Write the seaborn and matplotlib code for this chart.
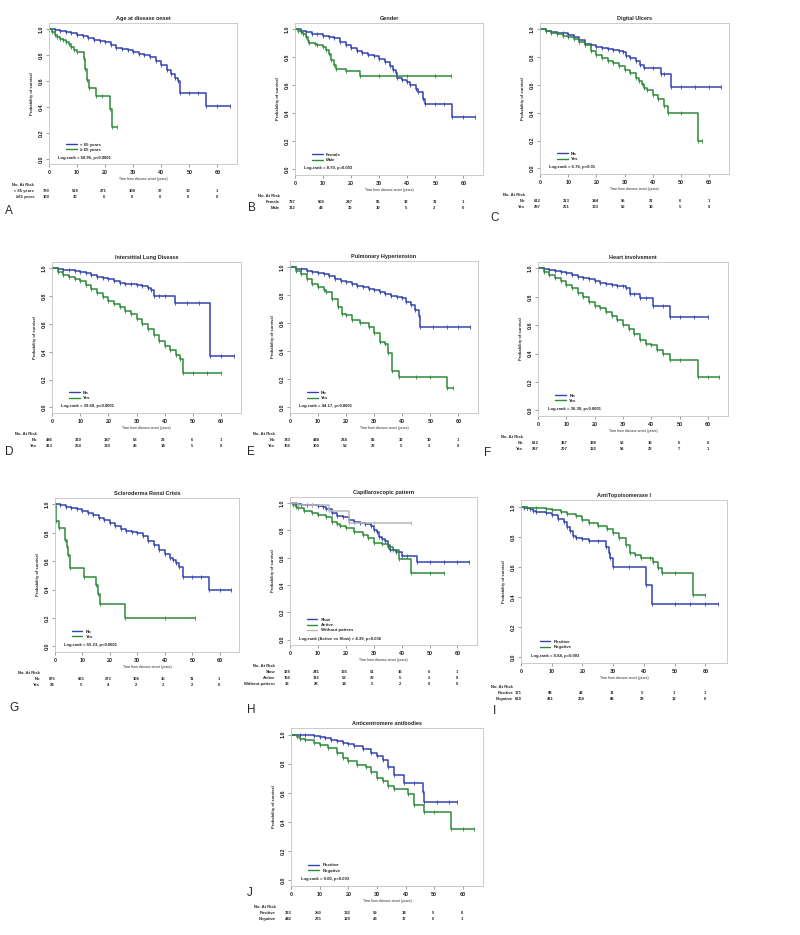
import matplotlib
matplotlib.use("Agg")
import matplotlib.pyplot as plt
import seaborn as sns
from matplotlib.lines import Line2D

sns.set_theme(style="white")
plt.rcParams["font.family"] = ["Liberation Sans", "DejaVu Sans"]

BLUE = "#3344b0"
GREEN = "#2f8a3a"
GRAY = "#b8b8b8"

XTICKS = [0, 10, 20, 30, 40, 50, 60]
YTICKS = [0.0, 0.2, 0.4, 0.6, 0.8, 1.0]
RISK_X = [-1.0, 9.4, 19.5, 29.5, 39.5, 49.7, 59.8]
XLABEL = "Time from disease onset (years)"

# A - age at disease onset
a_lt65_t = [0, 2, 4, 6, 8, 10, 12, 14, 16, 18, 20, 22, 24, 26, 28, 30, 32, 34, 36, 38, 40, 42, 43.5, 45, 46, 46.7, 50, 53, 56, 60, 64.5]
a_lt65_s = [1.0, 0.99, 0.98, 0.975, 0.965, 0.955, 0.945, 0.93, 0.915, 0.905, 0.895, 0.875, 0.855, 0.845, 0.835, 0.82, 0.81, 0.795, 0.78, 0.75, 0.72, 0.68, 0.655, 0.625, 0.60, 0.51, 0.51, 0.51, 0.41, 0.41, 0.41]
a_ge65_t = [0, 1, 2, 3, 4, 5, 6, 7, 8, 9, 10, 12.5, 13, 13.7, 14.2, 16.6, 19, 21.7, 22.3, 24.4]
a_ge65_s = [1.0, 0.975, 0.955, 0.94, 0.925, 0.915, 0.90, 0.88, 0.86, 0.835, 0.82, 0.765, 0.69, 0.61, 0.545, 0.48, 0.48, 0.38, 0.245, 0.245]
a_risk_lt65 = [799, 538, 271, 108, 37, 13, 1]
a_risk_ge65 = [100, 30, 6, 0, 0, 0, 0]

# B - gender
b_fem_t = [0, 2, 4, 6, 8, 10, 12, 14, 16, 18, 20, 22, 24, 26, 28, 30, 32, 34, 35, 36, 36.5, 38, 40, 41, 43, 44, 45.5, 46.5, 50, 53, 56, 60, 64]
b_fem_s = [1.0, 0.99, 0.98, 0.97, 0.965, 0.955, 0.945, 0.935, 0.91, 0.885, 0.865, 0.845, 0.83, 0.82, 0.81, 0.79, 0.765, 0.735, 0.71, 0.69, 0.65, 0.635, 0.625, 0.60, 0.575, 0.55, 0.505, 0.465, 0.465, 0.465, 0.375, 0.375, 0.375]
b_male_t = [0, 1, 2, 3, 4, 4.5, 5, 7, 8, 10, 11, 12, 13, 14, 14.5, 18, 23, 30, 40, 50, 55.5]
b_male_s = [1.0, 0.99, 0.98, 0.965, 0.945, 0.92, 0.905, 0.895, 0.89, 0.875, 0.85, 0.825, 0.78, 0.745, 0.72, 0.705, 0.67, 0.67, 0.67, 0.67, 0.67]
b_risk_fem = [787, 508, 247, 96, 32, 11, 1]
b_risk_male = [112, 48, 30, 10, 5, 2, 0]

# C - digital ulcers
c_no_t = [0, 2, 4, 6, 8, 10, 12, 14, 16, 18, 20, 22, 24, 26, 28, 29.5, 30.5, 32, 34, 35.5, 37, 40, 43, 44, 46.5, 50, 55, 60, 64]
c_no_s = [1.0, 0.99, 0.98, 0.975, 0.97, 0.96, 0.945, 0.92, 0.895, 0.885, 0.875, 0.865, 0.855, 0.85, 0.845, 0.84, 0.805, 0.795, 0.775, 0.745, 0.72, 0.72, 0.68, 0.68, 0.585, 0.585, 0.585, 0.585, 0.585]
c_yes_t = [0, 2, 4, 6, 8, 10, 12, 14, 16, 18, 20, 22, 24, 26, 28, 30, 32, 34, 35, 36, 37, 38, 40, 42, 44, 45.5, 50, 56, 57.5]
c_yes_s = [1.0, 0.985, 0.975, 0.965, 0.955, 0.945, 0.93, 0.91, 0.885, 0.845, 0.815, 0.795, 0.77, 0.755, 0.735, 0.705, 0.685, 0.65, 0.63, 0.605, 0.58, 0.565, 0.525, 0.50, 0.45, 0.40, 0.40, 0.20, 0.20]
c_risk_no = [612, 313, 144, 56, 21, 6, 1]
c_risk_yes = [287, 261, 133, 52, 16, 5, 0]

# D - interstitial lung disease
d_no_t = [0, 2, 4, 6, 8, 10, 12, 14, 16, 18, 20, 22, 24, 26, 28, 30, 32, 34, 35, 36, 38, 40, 43.5, 48, 52, 56, 60, 64.5]
d_no_s = [1.0, 0.995, 0.99, 0.985, 0.98, 0.975, 0.965, 0.95, 0.94, 0.93, 0.92, 0.905, 0.895, 0.89, 0.885, 0.88, 0.875, 0.86, 0.845, 0.80, 0.80, 0.80, 0.75, 0.75, 0.75, 0.37, 0.37, 0.37]
d_yes_t = [0, 2, 4, 6, 8, 10, 12, 14, 16, 18, 20, 22, 24, 26, 28, 30, 32, 34, 36, 38, 40, 42, 44, 45.5, 46.5, 50, 55, 60]
d_yes_s = [1.0, 0.975, 0.955, 0.935, 0.92, 0.905, 0.88, 0.85, 0.82, 0.79, 0.765, 0.74, 0.72, 0.695, 0.67, 0.635, 0.60, 0.56, 0.52, 0.48, 0.445, 0.41, 0.375, 0.35, 0.25, 0.25, 0.25, 0.25]
d_risk_no = [486, 310, 147, 63, 23, 6, 1]
d_risk_yes = [413, 264, 130, 45, 14, 5, 0]

# E - pulmonary hypertension
e_no_t = [0, 2, 4, 6, 8, 10, 12, 14, 16, 18, 20, 22, 24, 26, 28, 30, 32, 34, 36, 38, 40, 41.5, 43, 44.5, 46, 46.5, 51, 56, 60, 64]
e_no_s = [1.0, 0.99, 0.985, 0.975, 0.97, 0.96, 0.95, 0.935, 0.92, 0.905, 0.895, 0.88, 0.87, 0.86, 0.845, 0.835, 0.825, 0.81, 0.795, 0.785, 0.78, 0.755, 0.73, 0.695, 0.65, 0.575, 0.575, 0.575, 0.575, 0.575]
e_yes_t = [0, 2, 4, 6, 8, 10, 12, 13, 15, 17, 18.5, 20, 22, 25, 28, 30, 32, 34, 35, 36.5, 39, 45, 50, 56, 58]
e_yes_s = [1.0, 0.975, 0.95, 0.915, 0.88, 0.86, 0.84, 0.825, 0.775, 0.72, 0.67, 0.66, 0.625, 0.60, 0.575, 0.53, 0.47, 0.45, 0.39, 0.26, 0.215, 0.215, 0.215, 0.14, 0.14]
e_risk_no = [743, 448, 224, 86, 32, 10, 1]
e_risk_yes = [156, 100, 53, 22, 5, 3, 0]

# F - heart involvement
f_no_t = [0, 2, 4, 6, 8, 10, 12, 14, 16, 18, 20, 22, 24, 26, 28, 30, 31, 32.5, 34, 36, 38, 40.5, 44, 46.5, 50, 55, 60]
f_no_s = [1.0, 0.995, 0.99, 0.985, 0.975, 0.965, 0.955, 0.94, 0.93, 0.925, 0.91, 0.90, 0.89, 0.88, 0.875, 0.875, 0.86, 0.82, 0.82, 0.79, 0.79, 0.735, 0.735, 0.66, 0.66, 0.66, 0.66]
f_yes_t = [0, 2, 4, 6, 8, 10, 12, 14, 16, 18, 20, 22, 24, 26, 28, 30, 32, 34, 36, 38, 40, 42, 44, 46.5, 50, 56.5, 60, 64]
f_yes_s = [1.0, 0.975, 0.955, 0.935, 0.91, 0.885, 0.86, 0.83, 0.80, 0.76, 0.735, 0.72, 0.69, 0.665, 0.635, 0.60, 0.575, 0.54, 0.495, 0.47, 0.46, 0.425, 0.40, 0.355, 0.355, 0.235, 0.235, 0.235]
f_risk_no = [612, 387, 188, 52, 16, 6, 0]
f_risk_yes = [287, 207, 122, 56, 22, 7, 1]

# G - scleroderma renal crisis
g_no_t = [0, 2, 4, 6, 8, 10, 12, 14, 16, 18, 20, 22, 24, 26, 28, 30, 32, 34, 36, 38, 40, 42, 43, 44, 45, 46.5, 50, 53, 56, 60, 64]
g_no_s = [1.0, 0.995, 0.985, 0.975, 0.965, 0.95, 0.94, 0.925, 0.905, 0.89, 0.87, 0.85, 0.83, 0.815, 0.805, 0.795, 0.775, 0.745, 0.715, 0.68, 0.65, 0.625, 0.61, 0.585, 0.56, 0.485, 0.485, 0.485, 0.395, 0.395, 0.395]
g_yes_t = [0, 0.5, 1.5, 3.5, 4.2, 4.8, 5.5, 10.5, 14.8, 15.5, 16.5, 25.5, 40, 51]
g_yes_s = [1.0, 0.88, 0.835, 0.75, 0.70, 0.645, 0.555, 0.49, 0.43, 0.37, 0.30, 0.20, 0.20, 0.20]
g_risk_no = [875, 565, 273, 106, 35, 11, 1]
g_risk_yes = [24, 5, 4, 2, 2, 2, 0]

# H - capillaroscopic pattern
h_slow_t = [0, 2, 4, 6, 8, 10, 12, 13, 15, 17, 19, 21, 23, 25, 27, 29, 30, 31, 32, 33, 34, 35, 36, 38, 40, 42, 45.5, 50, 55, 60, 64]
h_slow_s = [1.0, 0.995, 0.99, 0.99, 0.985, 0.98, 0.97, 0.955, 0.925, 0.905, 0.895, 0.88, 0.865, 0.855, 0.845, 0.83, 0.805, 0.785, 0.755, 0.74, 0.72, 0.69, 0.66, 0.645, 0.615, 0.61, 0.565, 0.565, 0.565, 0.565, 0.565]
h_active_t = [0, 1, 2, 3, 5, 8, 10, 13, 15, 17, 18, 20, 23, 26, 28, 30, 33, 35, 37, 39, 43.5, 50, 55]
h_active_s = [1.0, 0.985, 0.975, 0.965, 0.94, 0.925, 0.915, 0.90, 0.865, 0.845, 0.83, 0.815, 0.79, 0.765, 0.745, 0.705, 0.70, 0.68, 0.66, 0.59, 0.49, 0.49, 0.49]
h_none_t = [0, 3, 8, 14, 21, 30, 43.5]
h_none_s = [1.0, 0.99, 0.99, 0.945, 0.855, 0.855, 0.855]
h_risk_slow = [338, 241, 135, 51, 16, 6, 1]
h_risk_active = [156, 116, 53, 22, 5, 2, 0]
h_risk_none = [33, 28, 14, 5, 2, 0, 0]

# I - anti-topoisomerase I
i_pos_t = [0, 1, 2, 3, 4, 5, 8, 10, 12, 14, 15, 16, 17, 18, 20, 22, 25, 27.5, 28.5, 29, 30, 35, 40.5, 42.5, 50, 55, 60, 64]
i_pos_s = [1.0, 0.995, 0.99, 0.985, 0.975, 0.965, 0.96, 0.945, 0.92, 0.90, 0.865, 0.84, 0.805, 0.79, 0.785, 0.77, 0.77, 0.73, 0.695, 0.66, 0.60, 0.60, 0.48, 0.355, 0.355, 0.355, 0.355, 0.355]
i_neg_t = [0, 2, 5, 8, 10, 13, 15, 18, 20, 22, 25, 28, 30, 32, 34, 35.5, 37, 39, 42, 43, 44.5, 46, 50, 56, 60]
i_neg_s = [1.0, 0.995, 0.99, 0.985, 0.98, 0.965, 0.955, 0.94, 0.915, 0.89, 0.87, 0.85, 0.825, 0.79, 0.745, 0.695, 0.68, 0.66, 0.66, 0.63, 0.59, 0.56, 0.56, 0.415, 0.415]
i_risk_pos = [171, 98, 42, 11, 5, 1, 1]
i_risk_neg = [618, 411, 204, 88, 29, 12, 0]

# J - anticentromere antibodies
j_pos_t = [0, 3, 5, 8, 10, 12, 14, 16, 18, 20, 22, 25, 28, 30, 32, 34, 36, 39.5, 43, 46, 46.5, 51, 55, 58]
j_pos_s = [1.0, 0.995, 0.995, 0.99, 0.985, 0.975, 0.965, 0.955, 0.94, 0.935, 0.92, 0.90, 0.875, 0.85, 0.825, 0.78, 0.72, 0.67, 0.67, 0.605, 0.535, 0.535, 0.535, 0.535]
j_neg_t = [0, 2, 3, 5, 8, 10, 13, 16, 18, 20, 23, 26, 28, 30, 32, 34, 36, 41, 43, 46.5, 50, 56, 60, 64]
j_neg_s = [1.0, 0.98, 0.97, 0.96, 0.945, 0.93, 0.905, 0.875, 0.84, 0.815, 0.79, 0.775, 0.745, 0.705, 0.68, 0.65, 0.625, 0.59, 0.515, 0.47, 0.47, 0.35, 0.35, 0.35]
j_risk_pos = [333, 250, 132, 59, 18, 5, 0]
j_risk_neg = [442, 265, 120, 43, 17, 6, 1]

W, H = 800, 935
fig = plt.figure(figsize=(W / 100, H / 100), dpi=100)


def pts(px):
    return px * 0.72


def km_panel(box, title, curves, rows, logrank, letter, letter_xy, lab_dx=-15, table_dy=0):
    l, t, r, b = box
    ax = fig.add_axes([l / W, 1 - b / H, (r - l) / W, (b - t) / H])
    for x, y, col, _ in curves:
        sns.lineplot(x=x, y=y, ax=ax, color=col, linewidth=1.1, drawstyle="steps-post",
                     estimator=None, sort=False, marker="|", ms=2.4, mew=0.6, mec=col,
                     legend=False)
    ax.set_xlim(0, 67)
    ax.set_ylim(-0.04, 1.045)
    ax.set_xticks(XTICKS)
    ax.set_yticks(YTICKS)
    ax.set_yticklabels([f"{v:.1f}" for v in YTICKS])
    for sp in ax.spines.values():
        sp.set_color("#c4c4c4")
        sp.set_linewidth(0.6)
    ax.tick_params(axis="both", bottom=True, left=True, length=2, width=0.5,
                   color="#777777", labelsize=3.9, pad=2)
    ax.tick_params(axis="y", labelrotation=90)
    for lab in ax.get_xticklabels() + ax.get_yticklabels():
        lab.set_fontweight("bold")
    for lab in ax.get_yticklabels():
        lab.set_va("center")
    ax.set_xlabel(XLABEL, fontsize=2.4, labelpad=1.5)
    ax.set_ylabel("Probability of survival", fontsize=3, fontweight="bold", labelpad=3)
    ax.set_title(title, fontsize=4, fontweight="bold", pad=2.5)

    handles = [Line2D([], [], color=c, lw=1.0) for _, _, c, _ in curves]
    labels = [lab for _, _, _, lab in curves]
    ax.legend(handles, labels, loc="lower left", bbox_to_anchor=(0.09, 0.085),
              frameon=False, prop={"size": 3.2, "weight": "bold"}, handlelength=2.4,
              handletextpad=0.8, labelspacing=0.25, borderpad=0, borderaxespad=0)
    ax.text(0.05, 0.03, logrank, transform=ax.transAxes, fontsize=3.1,
            fontweight="bold", ha="left", va="bottom")

    # number at risk table
    ax.annotate("No. At Risk", xy=(0, 0), xycoords="axes fraction",
                xytext=(pts(lab_dx), pts(-21 - table_dy)), textcoords="offset points",
                ha="right", va="center", fontsize=3.0, fontweight="bold",
                annotation_clip=False)
    for i, (name, counts) in enumerate(rows):
        dy = 27 + 6 * i + table_dy
        ax.annotate(name, xy=(0, 0), xycoords="axes fraction",
                    xytext=(pts(lab_dx), pts(-dy)), textcoords="offset points",
                    ha="right", va="center", fontsize=3.0, fontweight="bold",
                    annotation_clip=False)
        for xp, n in zip(RISK_X, counts):
            ax.annotate(str(n), xy=(xp, 0), xycoords=("data", "axes fraction"),
                        xytext=(0, pts(-dy)), textcoords="offset points",
                        ha="center", va="center", fontsize=3.0, fontweight="bold",
                        annotation_clip=False)
    fig.text(letter_xy[0] / W, 1 - letter_xy[1] / H, letter, fontsize=8.5,
             ha="center", va="center")
    return ax


km_panel((49, 23, 237, 164), "Age at disease onset",
         [(a_lt65_t, a_lt65_s, BLUE, "< 65 years"), (a_ge65_t, a_ge65_s, GREEN, "\u2265 65 years")],
         [("< 65 years", a_risk_lt65), ("\u226565 years", a_risk_ge65)],
         "Log-rank = 50.95, p<0.0001", "A", (9, 211))

km_panel((295, 23, 483, 175), "Gender",
         [(b_fem_t, b_fem_s, BLUE, "Female"), (b_male_t, b_male_s, GREEN, "Male")],
         [("Female", b_risk_fem), ("Male", b_risk_male)],
         "Log-rank = 8.70, p=0.003", "B", (252, 208))

km_panel((540, 23, 729, 174), "Digital Ulcers",
         [(c_no_t, c_no_s, BLUE, "No"), (c_yes_t, c_yes_s, GREEN, "Yes")],
         [("No", c_risk_no), ("Yes", c_risk_yes)],
         "Log-rank = 6.76, p=0.01", "C", (495, 218))

km_panel((52, 262, 241, 413), "Interstitial Lung Disease",
         [(d_no_t, d_no_s, BLUE, "No"), (d_yes_t, d_yes_s, GREEN, "Yes")],
         [("No", d_risk_no), ("Yes", d_risk_yes)],
         "Log-rank = 39.68, p<0.0001", "D", (9, 452))

km_panel((290, 261, 478, 413), "Pulmonary Hypertension",
         [(e_no_t, e_no_s, BLUE, "No"), (e_yes_t, e_yes_s, GREEN, "Yes")],
         [("No", e_risk_no), ("Yes", e_risk_yes)],
         "Log-rank = 44.17, p<0.0001", "E", (251, 452))

km_panel((538, 262, 728, 416), "Heart involvement",
         [(f_no_t, f_no_s, BLUE, "No"), (f_yes_t, f_yes_s, GREEN, "Yes")],
         [("No", f_risk_no), ("Yes", f_risk_yes)],
         "Log-rank = 36.38, p<0.0001", "F", (488, 453))

km_panel((55, 498, 239, 652), "Scleroderma Renal Crisis",
         [(g_no_t, g_no_s, BLUE, "No"), (g_yes_t, g_yes_s, GREEN, "Yes")],
         [("No", g_risk_no), ("Yes", g_risk_yes)],
         "Log-rank = 55.23, p<0.0001", "G", (14, 708))

km_panel((290, 497, 477, 645), "Capillaroscopic pattern",
         [(h_slow_t, h_slow_s, BLUE, "Slow"), (h_active_t, h_active_s, GREEN, "Active"),
          (h_none_t, h_none_s, GRAY, "Without pattern")],
         [("Slow", h_risk_slow), ("Active", h_risk_active), ("Without pattern", h_risk_none)],
         "Log-rank (Active vs Slow) = 4.39, p=0.036", "H", (251, 710))

km_panel((521, 500, 727, 663), "AntiTopoisomerase I",
         [(i_pos_t, i_pos_s, BLUE, "Positive"), (i_neg_t, i_neg_s, GREEN, "Negative")],
         [("Positive", i_risk_pos), ("Negative", i_risk_neg)],
         "Log-rank = 8.84, p=0.003", "I", (495, 711), lab_dx=-8, table_dy=3)

km_panel((291, 728, 483, 886), "Anticentromere antibodies",
         [(j_pos_t, j_pos_s, BLUE, "Positive"), (j_neg_t, j_neg_s, GREEN, "Negative")],
         [("Positive", j_risk_pos), ("Negative", j_risk_neg)],
         "Log-rank = 9.00, p=0.003", "J", (250, 893))

fig.savefig("out.png", dpi=100, facecolor="white")
